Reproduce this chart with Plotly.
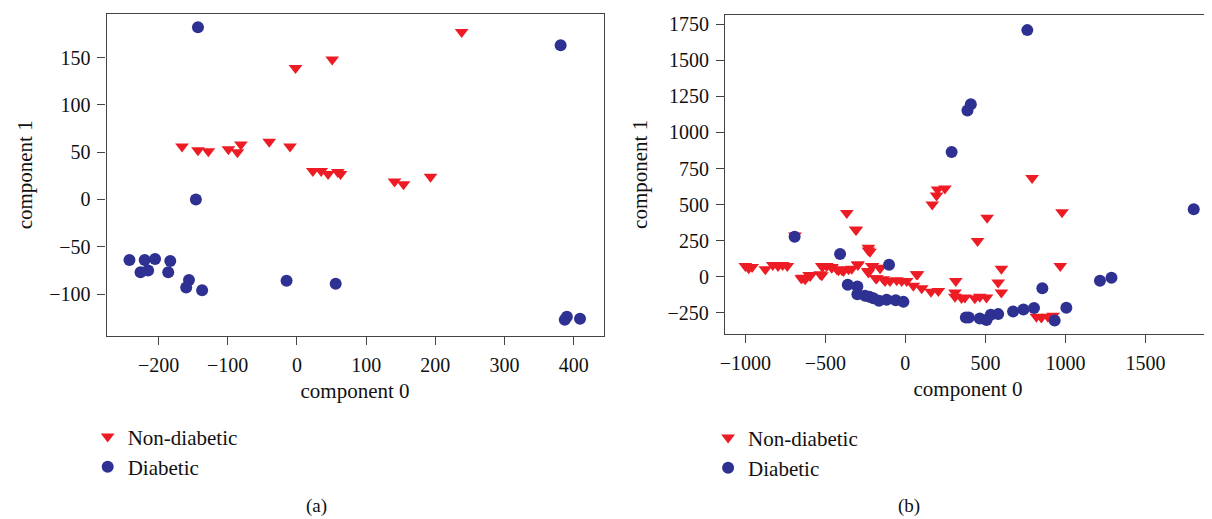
import plotly.graph_objects as go

# Panel (a)
a_nd_x = [-166, -143, -128, -99, -86, -81, -40, -10, -2, 51, 23, 35, 45, 59, 63, 141, 154, 193, 238]
a_nd_y = [56, 52, 51, 53, 50, 58, 61, 56, 139, 148, 30, 30, 27, 29, 27, 19, 16, 24, 177]
a_d_x = [-143, -146, -242, -220, -205, -183, -226, -215, -186, -156, -160, -137, -15, 56, 381, 387, 390, 409]
a_d_y = [182, 0, -64, -64, -63, -65, -77, -75, -77, -85, -93, -96, -86, -89, 163, -127, -124, -126]

# Panel (b)
b_nd_x = [-1000, -979, -958, -875, -829, -796, -767, -738, -690, -641, -626, -595, -522, -518, -491, -460,
          -428, -397, -355, -366, -310, -297, -231, -221, -235, -206, -158, -185, -137, -96, -54, -23, 8,
          50, 76, 102, 160, 206, 168, 195, 201, 247, 315, 310, 310, 351, 372, 434, 465, 507, 451, 511, 580,
          600, 600, 792, 819, 850, 891, 923, 968, 979,
          -522, -460, -418, -387, -335, -297, -231, -210, -158, -651, -601, -532, -308, -231, 70, -179, -127]
b_nd_y = [74, 58, 67, 51, 81, 74, 81, 74, 285, -7, -18, 5, 10, 69, 74, 67,
          51, 46, 51, 442, 327, 81, 200, 173, 39, 74, 58, -11, -18, -30, -25, -30, -30,
          -64, 17, -80, -104, -99, 500, 563, 604, 611, -30, -110, -140, -149, -145, -150, -140, -145, 247, 408, -41,
          55, -110, 684, -279, -283, -279, -272, 74, 447,
          74, 62, 44, 39, 55, 86, 28, 74, 62, -11, 12, 17, 323, 182, 17, -11, -30]
b_d_x = [-692, -408, -102, -360, -300, -300, -252, -200, -165, -117, -60, -12, -225, 289, 388, 409, 762,
         378, 396, 465, 507, 534, 580, 673, 738, 804, 856, 933, 1006, 1216, 1288, 1802]
b_d_y = [276, 157, 83, -57, -69, -122, -133, -150, -168, -161, -163, -175, -140, 864, 1152, 1196, 1710,
         -283, -283, -290, -301, -265, -260, -242, -228, -218, -80, -304, -216, -28, -7, 468]

RED = "#ED1C24"
BLUE = "#2E3192"
FONT = "Liberation Serif"

fig = go.Figure()

tri = dict(symbol="triangle-down", size=12, color=RED)
cir = dict(symbol="circle", size=12, color=BLUE)

fig.add_trace(go.Scatter(x=a_nd_x, y=a_nd_y, mode="markers", marker=tri, name="Non-diabetic",
                         xaxis="x", yaxis="y", legend="legend"))
fig.add_trace(go.Scatter(x=a_d_x, y=a_d_y, mode="markers", marker=cir, name="Diabetic",
                         xaxis="x", yaxis="y", legend="legend"))
fig.add_trace(go.Scatter(x=b_nd_x, y=b_nd_y, mode="markers", marker=tri, name="Non-diabetic",
                         xaxis="x2", yaxis="y2", legend="legend2"))
fig.add_trace(go.Scatter(x=b_d_x, y=b_d_y, mode="markers", marker=cir, name="Diabetic",
                         xaxis="x2", yaxis="y2", legend="legend2"))

# page body has an 8px margin, so the figure is shifted by 8px
OFF = 8
W, H = 1212 - OFF, 519 - OFF


def px_x(p):
    return (p - OFF) / W


def px_y(p):
    return (H - (p - OFF)) / H


axis_common = dict(showgrid=False, zeroline=False, showline=True, linecolor="#444", linewidth=1.3,
                   mirror=True, ticks="outside", ticklen=8, tickcolor="#444", tickwidth=1.3,
                   ticklabelstandoff=3,
                   tickfont=dict(family=FONT, size=20, color="#111"),
                   title_font=dict(family=FONT, size=21, color="#111"))

fig.update_layout(
    width=W, height=H, margin=dict(l=0, r=0, t=0, b=0),
    plot_bgcolor="white", paper_bgcolor="white",
    xaxis=dict(domain=[px_x(102), px_x(601)], range=[-275, 443], anchor="y",
               tickvals=[-200, -100, 0, 100, 200, 300, 400],
               ticktext=["\u2212200", "\u2212100", "0", "100", "200", "300", "400"],
               title=dict(text="component 0", standoff=8), **axis_common),
    yaxis=dict(domain=[px_y(335), px_y(12)], range=[-144, 196], anchor="x",
               tickvals=[-100, -50, 0, 50, 100, 150],
               ticktext=["\u2212100", "\u221250", "0", "50", "100", "150"],
               title=dict(text="component 1", standoff=10), **axis_common),
    xaxis2=dict(domain=[px_x(723), px_x(1211)], range=[-1127, 1910], anchor="y2",
                tickvals=[-1000, -500, 0, 500, 1000, 1500],
                ticktext=["\u22121000", "\u2212500", "0", "500", "1000", "1500"],
                title=dict(text="component 0", standoff=8), **axis_common),
    yaxis2=dict(domain=[px_y(333), px_y(13)], range=[-396, 1815], anchor="x2",
                tickvals=[-250, 0, 250, 500, 750, 1000, 1250, 1500, 1750],
                ticktext=["\u2212250", "0", "250", "500", "750", "1000", "1250", "1500", "1750"],
                title=dict(text="component 1", standoff=14), **axis_common),
    legend=dict(x=px_x(83), y=px_y(416), xanchor="left", yanchor="top",
                font=dict(family=FONT, size=21, color="#111"), bgcolor="rgba(0,0,0,0)",
                itemwidth=30, tracegroupgap=0),
    legend2=dict(x=px_x(706), y=px_y(417), xanchor="left", yanchor="top",
                 font=dict(family=FONT, size=21, color="#111"), bgcolor="rgba(0,0,0,0)",
                 itemwidth=30, tracegroupgap=0),
    annotations=[
        dict(text="(a)", x=px_x(300), y=0, yanchor="bottom", xref="paper", yref="paper", showarrow=False,
             font=dict(family=FONT, size=19, color="#111")),
        dict(text="(b)", x=px_x(921), y=0, yanchor="bottom", xref="paper", yref="paper", showarrow=False,
             font=dict(family=FONT, size=19, color="#111")),
    ],
)

fig.write_html("out.html")
